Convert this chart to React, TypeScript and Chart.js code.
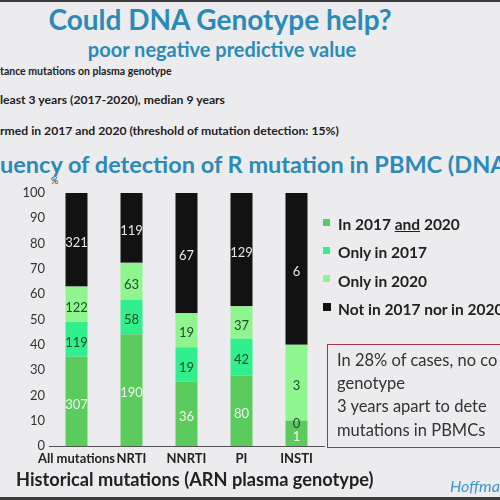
import React, { useEffect, useRef } from "react";
import { Chart, registerables } from "chart.js";

Chart.register(...registerables);

// ---------- data ----------
const categories = ["All mutations", "NRTI", "NNRTI", "PI", "INSTI"];
const seriesNames = ["In 2017 and 2020", "Only in 2017", "Only in 2020", "Not in 2017 nor in 2020"];
// percentages (stack heights)
const bothPct = [35.3, 44.2, 25.5, 27.8, 10];
const only2017Pct = [13.7, 13.5, 13.5, 14.6, 0];
const only2020Pct = [14.0, 14.7, 13.5, 12.8, 30];
const neitherPct = [37.0, 27.6, 47.5, 44.8, 60];
// counts shown inside the segments
const bothCounts = [307, 190, 36, 80, 1];
const only2017Counts = [119, 58, 19, 42, 0];
const only2020Counts = [122, 63, 19, 37, 3];
const neitherCounts = [321, 119, 67, 129, 6];
const yTicks = [0, 10, 20, 30, 40, 50, 60, 70, 80, 90, 100];
const xAxisTitle = "Historical mutations (ARN plasma genotype)";

const FONT = "Lato, 'Open Sans', sans-serif";
const TEAL = "#2b8bb6";
const seriesColors = ["#5ccb5e", "#30ef8c", "#8ff58f", "#121212"];
const labelColors = ["#eef8ee", "#1d4d2b", "#1d4d2b", "#e6e6e6"];
const countsBySeries = [bothCounts, only2017Counts, only2020Counts, neitherCounts];
const pctBySeries = [bothPct, only2017Pct, only2020Pct, neitherPct];

type TP = {
  x: number;
  base: number;
  size: number;
  weight?: number;
  color?: string;
  italic?: boolean;
  w?: number;
  center?: boolean;
  children: React.ReactNode;
};

const Txt = ({ x, base, size, weight = 700, color = "#222", italic = false, w, center, children }: TP) => (
  <div
    style={{
      position: "absolute",
      left: x,
      top: base - 0.987 * size,
      fontSize: size,
      lineHeight: `${size * 1.2}px`,
      fontWeight: weight,
      color,
      fontStyle: italic ? "italic" : "normal",
      whiteSpace: "nowrap",
      fontFamily: FONT,
      width: w,
      textAlign: center ? "center" : "left",
    }}
  >
    {children}
  </div>
);

const labelPlugin = {
  id: "segLabels",
  afterDatasetsDraw(chart: any) {
    const ctx = chart.ctx;
    chart.data.datasets.forEach((_ds: any, i: number) => {
      const meta = chart.getDatasetMeta(i);
      meta.data.forEach((bar: any, j: number) => {
        const { x, y, base } = bar.getProps(["x", "y", "base"], true);
        ctx.save();
        ctx.font = `13px ${FONT}`;
        ctx.fillStyle = labelColors[i];
        ctx.textAlign = "center";
        ctx.textBaseline = "middle";
        ctx.fillText(String(countsBySeries[i][j]), x, (y + base) / 2 + 3);
        ctx.restore();
      });
    });
  },
};

export default function App() {
  const canvasRef = useRef<HTMLCanvasElement | null>(null);

  useEffect(() => {
    if (!canvasRef.current) return;
    const chart = new Chart(canvasRef.current, {
      type: "bar",
      data: {
        labels: categories,
        datasets: seriesNames.map((name, i) => ({
          label: name,
          data: pctBySeries[i],
          backgroundColor: seriesColors[i],
          borderWidth: 0,
          categoryPercentage: 1,
          barPercentage: 0.4,
        })),
      },
      options: {
        responsive: false,
        animation: false,
        devicePixelRatio: 1,
        layout: { padding: { top: 13, right: 176, left: 0, bottom: 0 } },
        plugins: { legend: { display: false }, tooltip: { enabled: false } },
        scales: {
          x: {
            stacked: true,
            grid: { display: false, drawTicks: false },
            border: { display: true, color: "#555", width: 1 },
            ticks: {
              font: { family: FONT, size: 13, weight: "bold" },
              color: "#222",
              padding: 5,
              maxRotation: 0,
              autoSkip: false,
            },
            afterFit(s: any) {
              s.height = 48;
            },
          },
          y: {
            stacked: true,
            min: 0,
            max: 100,
            afterBuildTicks(s: any) {
              s.ticks = yTicks.map((v) => ({ value: v }));
            },
            grid: { display: false, drawTicks: false },
            border: { display: false },
            ticks: {
              font: { family: FONT, size: 13 },
              color: "#333",
              padding: 4,
            },
            afterFit(s: any) {
              s.width = 49;
            },
          },
        },
      },
      plugins: [labelPlugin],
    });
    return () => chart.destroy();
  }, []);

  const legendRows = [
    { top: 219, base: 230, size: 7, content: <>In 2017 <span style={{ textDecoration: "underline" }}>and</span> 2020</> },
    { top: 247, base: 258, size: 7, content: <>Only in 2017</> },
    { top: 275, base: 287, size: 7, content: <>Only in 2020</> },
    { top: 303, base: 315, size: 8, content: <>Not in 2017 nor in 2020</> },
  ];

  return (
    <div
      style={{
        position: "absolute",
        left: 0,
        top: 0,
        width: 500,
        height: 500,
        overflow: "hidden",
        background: "#ecebee",
        fontFamily: FONT,
      }}
    >
      <div style={{ position: "absolute", left: 0, top: 0, width: 500, height: 2, background: "#3c3c3c" }} />

      <Txt x={0} base={31} size={28} color={TEAL} w={440} center>
        Could DNA Genotype help?
      </Txt>
      <Txt x={0} base={57} size={20} color={TEAL} w={444} center>
        poor negative predictive value
      </Txt>
      <Txt x={0} base={75} size={10.5} color="#222">
        tance mutations on plasma genotype
      </Txt>
      <Txt x={0} base={105} size={12.2} color="#222">
        least 3 years (2017-2020), median 9 years
      </Txt>
      <Txt x={0} base={136} size={12.2} color="#222">
        rmed in 2017 and 2020 (threshold of mutation detection: 15%)
      </Txt>
      <Txt x={0} base={173} size={23.5} color={TEAL}>
        uency of detection of R mutation in PBMC (DNA)
      </Txt>
      <Txt x={51} base={185} size={9} weight={400} color="#333">
        %
      </Txt>

      <canvas
        ref={canvasRef}
        width={500}
        height={314}
        style={{ position: "absolute", left: 0, top: 180, width: 500, height: 314 }}
      />

      <Txt x={16} base={487} size={18.2} color="#222">
        {xAxisTitle}
      </Txt>

      {legendRows.map((r, i) => (
        <React.Fragment key={i}>
          <div
            style={{
              position: "absolute",
              left: 323,
              top: r.top,
              width: r.size,
              height: r.size,
              background: seriesColors[i],
            }}
          />
          <Txt x={338} base={r.base} size={15.5} color="#222">
            {r.content}
          </Txt>
        </React.Fragment>
      ))}

      <div
        style={{
          position: "absolute",
          left: 327,
          top: 344,
          width: 200,
          height: 102,
          border: "1px solid #a8334a",
        }}
      />
      <Txt x={337} base={367} size={16.5} weight={400} color="#333">
        In 28% of cases, no co
      </Txt>
      <Txt x={337} base={390} size={16.5} weight={400} color="#333">
        genotype
      </Txt>
      <Txt x={337} base={413} size={16.5} weight={400} color="#333">
        3 years apart to dete
      </Txt>
      <Txt x={337} base={437} size={16.5} weight={400} color="#333">
        mutations in PBMCs
      </Txt>
      <Txt x={450} base={492} size={16} weight={400} italic color="#3a98c4">
        Hoffma
      </Txt>
      <div style={{ position: "absolute", left: 0, top: 497, width: 500, height: 3, background: "#3c3c3c" }} />
    </div>
  );
}
